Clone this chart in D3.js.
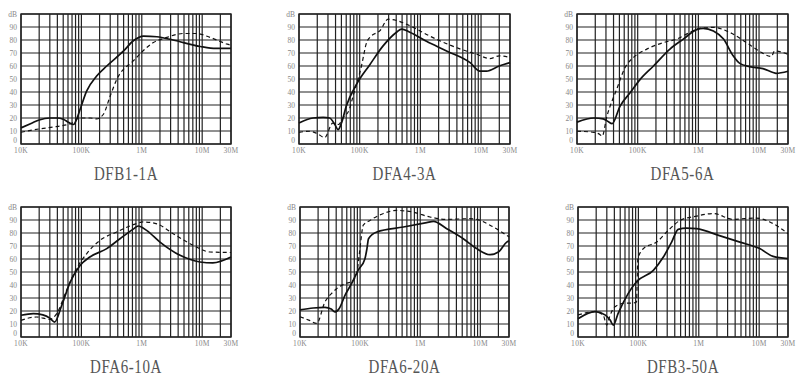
<!DOCTYPE html>
<html><head><meta charset="utf-8">
<script src="https://cdn.jsdelivr.net/npm/d3@7"></script>
<style>html,body{margin:0;padding:0;background:#fff;}svg{display:block;}</style>
</head><body>
<svg id="c" width="800" height="382"></svg>
<script>
// ---- data (frequency in kHz, attenuation in dB) ----
const titles = ["DFB1-1A","DFA4-3A","DFA5-6A","DFA6-10A","DFA6-20A","DFB3-50A"];
const xTickValues = [10, 100, 1000, 10000, 30000];
const xTickLabels = ["10K","100K","1M","10M","30M"];
const yTickValues = [0,10,20,30,40,50,60,70,80,90,100];
const yTickLabels = ["0","10","20","30","40","50","60","70","80","90","dB"];

const dfb1_1a_solid = [[10,12.4],[15,16],[20,18.5],[30,20],[40,20],[50,19],[62,16.5],[74,15],[85,20],[95,26.5],[122,40.7],[179,52.3],[263,60],[500,71.6],[724,79.4],[1070,83],[1780,82.5],[3300,80],[9300,75],[17000,73.5],[30000,73.5]];
const dfb1_1a_dashed = [[10,9],[20,11.6],[40,13.5],[69,16],[80,18.5],[95,20],[140,20],[178,19.3],[230,22.7],[300,36.9],[385,49.7],[724,64],[1560,78],[2600,82],[4900,85],[8100,85],[13500,82],[26000,76.8],[30000,76]];

const dfa4_3a_solid = [[10,16.2],[17,20],[25,20.5],[32,20],[39,15],[44,11],[50,16],[60,29],[89,46],[147,61],[243,75.5],[405,86],[490,88.4],[670,86],[1260,79],[2700,71.6],[6600,62.6],[9600,56],[12300,56],[20000,60],[30000,62.6]];
const dfa4_3a_dashed = [[10,9],[15,9.8],[20,8],[26.5,5],[36,16],[45,15],[53,20],[68,27],[78,37],[107,60],[130,78],[155,83],[214,87],[295,96],[405,95],[670,91],[1430,83],[4000,74],[8500,69],[14000,65.7],[20000,67.8],[30000,66.5]];

const dfa5_6a_solid = [[10,16.8],[19,20],[27,19.3],[32,17.5],[38,15.7],[51,29],[75,39.4],[110,49.7],[182,60],[340,73],[565,80.7],[935,88],[1200,89],[1770,87],[2600,80.7],[3750,67.8],[4800,62],[7000,59.5],[11600,58],[17000,55],[19000,54.4],[30000,56]];
const dfa5_6a_dashed = [[10,9.8],[19,9],[24,7.2],[26,6],[31,21],[45,42],[62,58.8],[85,66.5],[141,73],[265,78],[437,80.7],[725,85.8],[1070,89],[1770,89.7],[3300,85.8],[6200,78],[10000,71.6],[16000,67.3],[18000,71.6],[30000,69]];

const dfa6_10a_solid = [[10,16.7],[16,18],[23,17],[30,14.5],[36,11.5],[47,24],[65,42],[95,55],[138,61.5],[263,68],[435,75.6],[724,83],[870,85.4],[1200,82],[2000,73],[4300,62.8],[9200,57.7],[15000,57],[30000,61.5]];
const dfa6_10a_dashed = [[10,12.8],[18,15.4],[30,13.6],[39,18],[57,36],[83,52.6],[122,64],[204,74.4],[384,80.8],[724,86.4],[1070,88.5],[1780,87],[3300,79.5],[7100,70.5],[13400,65.4],[30000,65]];

const dfa6_20a_solid = [[10,20.8],[16.6,22.3],[26,22.8],[33,21.5],[38,19.3],[45,22],[56,32],[72,41],[93,51.5],[120,60],[130,68],[138,75.6],[190,80.8],[525,84.6],[1280,88],[1660,89],[2760,83.3],[5200,75.6],[8700,68],[14500,63.3],[20000,65.4],[27500,73],[30000,74]];
const dfa6_20a_dashed = [[10,15.6],[14,13],[19,10.5],[26,27],[33.7,33.6],[56,41],[72,42.5],[88,49],[98,65.4],[113,86],[146,89.7],[244,95],[405,97.4],[770,96],[1450,92.3],[2760,90.5],[6700,91],[8700,90.5],[14500,86],[30000,77]];

const dfb3_50a_solid = [[10,14],[19,19.5],[28,17],[34,13],[38.5,9.2],[46,18],[68,33.6],[93,42.5],[177,51.3],[259,61.5],[355,73],[456,82.8],[630,83.8],[920,83.3],[2200,78],[4800,73],[10200,68],[17000,62],[30000,60.3]];
const dfb3_50a_dashed = [[10,17],[19,19.5],[26,17],[30,9.2],[33,15],[41,23.3],[60,26],[78,26],[93,27],[98,60],[121,68],[200,73],[333,83.3],[490,89.7],[920,93],[1740,95],[3700,90.5],[9000,91.5],[15000,88.5],[30000,79.5]];

const solidSeries = [dfb1_1a_solid, dfa4_3a_solid, dfa5_6a_solid, dfa6_10a_solid, dfa6_20a_solid, dfb3_50a_solid];
const dashedSeries = [dfb1_1a_dashed, dfa4_3a_dashed, dfa5_6a_dashed, dfa6_10a_dashed, dfa6_20a_dashed, dfb3_50a_dashed];

// ---- layout ----
const boxes = [
  {x0:21, x1:231, y0:14, y1:144},
  {x0:299, x1:510, y0:14, y1:144},
  {x0:577, x1:788, y0:14, y1:144},
  {x0:21, x1:231, y0:207, y1:337},
  {x0:300, x1:509, y0:207, y1:337},
  {x0:578, x1:788, y0:207, y1:337}
];

const svg = d3.select("#c");
const gridColor = "#222";
const labelColor = "#888";
const serif = "Liberation Serif, DejaVu Serif, serif";

boxes.forEach((b, i) => {
  const x = d3.scaleLog().domain([10, 30000]).range([b.x0, b.x1]);
  const y = d3.scaleLinear().domain([0, 100]).range([b.y1, b.y0]);
  const g = svg.append("g");

  g.selectAll("line.v").data(x.ticks()).enter().append("line")
    .attr("x1", d => x(d)).attr("x2", d => x(d))
    .attr("y1", b.y0).attr("y2", b.y1)
    .attr("stroke", gridColor).attr("stroke-width", 1.2);
  g.selectAll("line.h").data(yTickValues).enter().append("line")
    .attr("x1", b.x0).attr("x2", b.x1)
    .attr("y1", d => y(d)).attr("y2", d => y(d))
    .attr("stroke", gridColor).attr("stroke-width", 1.2);
  g.append("rect").attr("x", b.x0).attr("y", b.y0)
    .attr("width", b.x1 - b.x0).attr("height", b.y1 - b.y0)
    .attr("fill", "none").attr("stroke", gridColor).attr("stroke-width", 1.4);

  g.selectAll("text.y").data(yTickValues).enter().append("text")
    .attr("x", b.x0 - 4).attr("y", (d) => y(d) + (d === 0 ? -1 : 2.5))
    .attr("text-anchor", "end")
    .attr("font-family", serif).attr("font-size", 7.5)
    .attr("fill", labelColor)
    .text((d, k) => yTickLabels[k]);
  g.selectAll("text.x").data(xTickValues).enter().append("text")
    .attr("x", d => x(d)).attr("y", b.y1 + 9)
    .attr("text-anchor", "middle")
    .attr("font-family", serif).attr("font-size", 7.5)
    .attr("letter-spacing", 0.3)
    .attr("fill", labelColor)
    .text((d, k) => xTickLabels[k]);

  const line = d3.line().x(d => x(d[0])).y(d => y(d[1])).curve(d3.curveMonotoneX);
  g.append("path").datum(dashedSeries[i]).attr("d", line)
    .attr("fill", "none").attr("stroke", "#111").attr("stroke-width", 1.2)
    .attr("stroke-dasharray", "4,3");
  g.append("path").datum(solidSeries[i]).attr("d", line)
    .attr("fill", "none").attr("stroke", "#111").attr("stroke-width", 1.7);

  const cx = (b.x0 + b.x1) / 2;
  const by = b.y1 + 36;
  g.append("text")
    .attr("transform", `translate(${cx},${by}) scale(1,1.2)`)
    .attr("text-anchor", "middle")
    .attr("font-family", serif).attr("font-size", 15)
    .attr("letter-spacing", 0.6)
    .attr("fill", "#555")
    .text(titles[i]);
});
</script>
</body></html>
